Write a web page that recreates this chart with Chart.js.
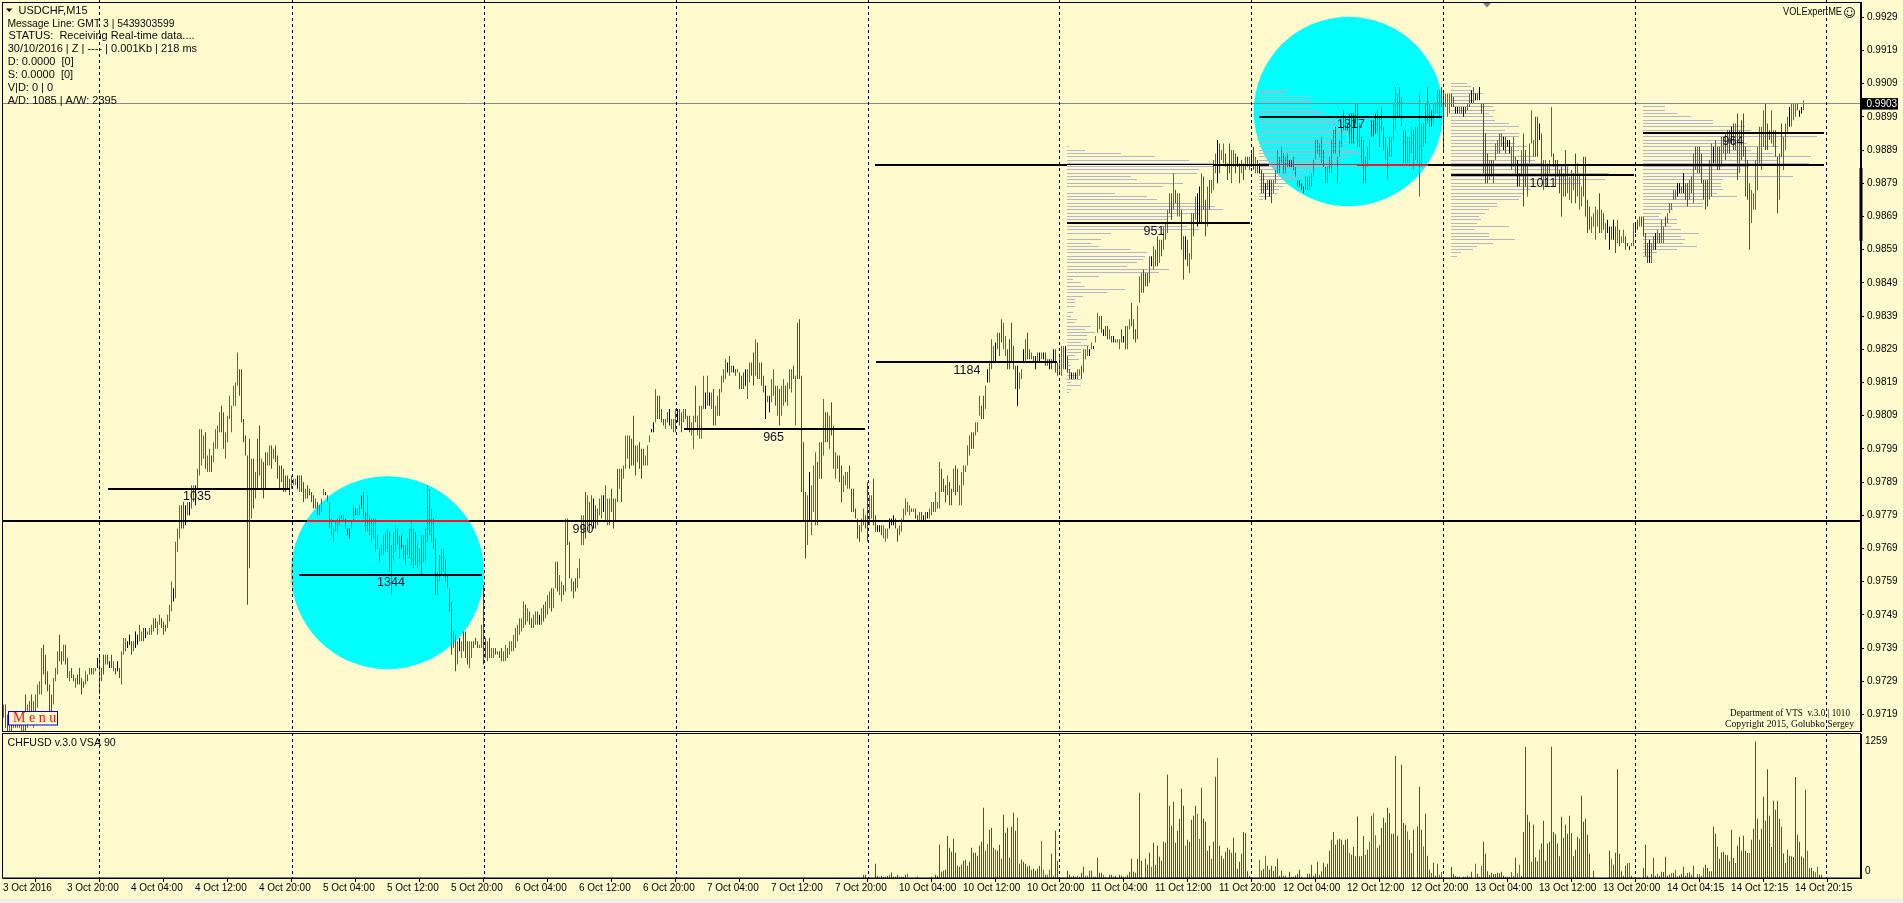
<!DOCTYPE html>
<html><head><meta charset="utf-8">
<script src="https://cdn.jsdelivr.net/npm/chart.js@4/dist/chart.umd.js"></script>
<style>
html,body{margin:0;padding:0;background:#FFFACD;overflow:hidden;width:1903px;height:903px}
canvas{position:absolute;left:0}
#foot{position:absolute;left:0;top:899px;width:1903px;height:4px;background:#f0f0f0}
</style></head><body>
<canvas id="main" width="1903" height="733" style="top:0"></canvas>
<canvas id="sub" width="1903" height="166" style="top:733px"></canvas>
<div id="foot"></div>
<script>
// Price bars: high, low, colour (1 up/green, 2 down/red, 0 flat/black); prices are 0.9xxx, written as xxx
const barsA=[722,718,1,722,715,2,719,714,2,718,714,1,718,714,2,719,715,1,719,715,2,719,715,1,720,715,1,716,714,1,717,714,1,725,714,2,722,715,1,723,717,1,725,719,2,723,715,1,725,719,1,728,721,1,729,725,1,739,725,1,740,731,2,737,728,2,732,726,2,728,718,2,725,720,2,730,722,1,733,729,1,738,731,1,743,735,2,738,734,2,740,735,1,740,734,2,736,730,2,732,729,1,733,730,2,731,729,2,730,727,1,731,728,2,733,728,2,730,725,2,729,727,2,732,728,1,731,729,2,733,731,1,733,731,2,733,731,1,733,732,1,736,733,0,
737,725,1,733,729,2,737,731,2,737,734,1,737,734,2,735,733,0,737,733,2,735,732,1,733,731,2,735,732,0,733,730,2,738,728,1,742,737,1,742,738,1,741,739,0,743,740,0,741,737,2,741,738,1,744,739,0,743,740,0,746,741,1,744,741,1,745,741,2,745,742,0,744,743,1,745,743,1,746,743,1,748,744,1,748,745,2,747,743,1,749,746,1,748,745,2,747,743,2,746,744,2,749,745,1,752,747,1,759,750,1,757,753,0,771,754,1,775,768,1,782,772,1,782,775,2,783,775,2,782,776,0,783,779,1,783,779,0,788,781,1,788,783,1,788,782,0,793,787,1,805,791,1,805,794,1,803,796,1,804,793,2,797,792,1,799,792,1,797,792,2,801,795,1,805,799,1,806,799,1,810,804,1,812,804,2,810,799,2,804,796,1,809,801,1,815,808,1,812,804,1,818,812,1,819,812,1,828,818,1,823,815,2,823,807,2,808,801,2,803,797,2,797,752,2,802,763,2,796,778,1,796,781,2,792,784,1,802,787,2,806,791,2,796,787,1,795,784,2,798,787,2,798,794,1,800,794,1,800,793,2,799,796,1,800,795,2,797,790,2,794,787,2,794,789,2,793,786,2,791,786,2,791,787,2,790,785,2];
const barsB=[791,787,1,790,788,1,790,788,1,791,787,0,791,786,1,791,786,2,789,783,2,787,784,1,788,784,2,787,785,2,786,783,2,785,781,2,784,781,1,783,779,2,782,779,2,784,780,1,787,785,1,786,785,0,785,783,2,783,775,2,778,773,1,775,771,1,777,774,1,778,774,1,779,776,1,779,778,0,779,777,1,778,775,2,775,773,0,775,772,0,777,775,1,782,777,1,781,779,0,781,779,1,782,779,1,785,781,0,786,778,2,780,774,2,785,774,1,779,773,2,778,771,1,778,772,1,778,768,1,773,769,1,769,765,2,770,767,1,773,767,1,774,768,1,775,768,1,774,762,2,770,755,1,774,765,1,776,768,1,775,770,2,773,766,1,773,769,0,770,766,2,770,764,2,772,767,1,775,766,2,777,764,1,775,763,1,774,764,2,771,763,1,769,764,1,773,761,2,773,765,1,775,765,1,788,771,1,787,773,2,781,771,1,778,769,2,772,755,2,762,755,1,767,759,1,769,761,1,769,762,1,766,759,2,761,757,2,757,750,2,753,737,2,744,739,1,743,732,2,741,734,1,742,738,0,741,736,1,744,738,2,744,736,2,741,734,2,741,733,1,741,736,1,741,739,2,742,740,2,741,739,2,740,739,1,746,739,1,
758,734,2,742,736,2,741,735,1,742,736,2,739,736,1,739,736,1,739,737,2,738,737,1,738,736,2,739,735,2,738,735,1,740,735,1,739,736,2,741,737,1,741,738,1,743,738,1,745,739,1,746,741,1,748,743,1,748,744,1,753,745,1,752,746,2,751,747,1,750,746,2,748,745,2,749,745,1,750,746,1,750,746,2,749,746,0,751,746,1,752,747,2,753,748,1,755,749,1,756,751,1,757,750,2,757,751,1,765,757,1,765,756,2,761,755,1,759,753,1,758,755,2,778,756,1,778,770,2,771,760,2,760,756,1,759,754,2,760,756,2,763,757,1,766,760,1,779,770,1,779,770,1,786,772,2,785,776,1,783,774,2,785,776,1,784,775,0,782,775,2,781,776,1,784,779,1,785,778,1,785,780,0,788,777,1,784,776,1,784,776,1,787,780,2,784,775,2,784,777,1,793,783,2,793,787,1,793,783,2,794,790,1,803,793,1,803,796,1,803,793,2,802,794,2,809,794,2,800,791,2,800,795,1,801,793,2,799,790,2,799,794,2,797,794,1,800,794,1,803,801,1,805,804,0,807,804,0,817,807,1,815,808,2,815,808,2,811,807,2,808,806,2,808,805,1,810,807,2,811,806,0,808,805,1,808,804,1];
const barsC=[811,804,1,811,807,0,811,806,2,810,804,2,811,807,1,811,808,2,809,805,2,809,804,2,807,803,1,809,799,1,818,807,2,809,803,1,812,802,1,812,802,1,821,811,1,816,811,0,821,812,1,816,812,0,816,811,1,817,806,2,812,806,1,815,809,1,817,809,2,821,816,1,823,819,1,826,820,1,825,822,0,827,821,2,824,822,1,824,822,0,823,821,2,823,822,1,822,817,2,821,817,2,822,817,2,823,818,0,823,814,1,825,819,1,825,821,2,828,818,2,832,821,1,831,820,2,825,820,1,825,818,2,821,816,2,818,808,0,815,813,1,815,810,0,820,813,1,823,815,1,818,812,2,818,809,1,817,806,2,818,809,1,820,812,1,818,813,2,819,812,1,823,817,1,823,816,1,824,820,2,821,806,1,837,820,2,838,820,2,821,786,2,801,777,2,786,766,2,785,770,1,792,777,0,788,773,1,794,780,1,798,776,1,795,776,2,801,790,1,801,790,2,814,797,1,810,801,2,810,801,2,809,799,1,813,803,2,806,793,2,798,790,1,797,793,2,797,789,2,794,783,2,791,786,1,792,788,1,792,787,1,794,787,2,787,780,2,787,780,2,781,778,2,778,772,2,776,771,2,778,774,1,781,776,1,779,775,2,
789,771,2,785,776,1,785,778,1,790,776,2,779,774,2,776,774,0,776,774,0,776,773,2,776,772,1,775,771,1,775,772,1,778,775,0,778,776,0,779,776,0,778,775,2,775,771,2,776,773,1,778,774,1,781,777,1,784,779,1,783,780,1,782,779,1,781,780,2,781,780,1,781,778,2,779,777,2,780,777,1,780,777,2,779,777,0,780,777,2,780,778,0,781,778,1,783,779,1,783,780,2,786,780,1,783,781,1,795,781,1,793,786,2,790,786,2,788,783,2,791,785,1,789,782,2,787,782,2,793,786,1,794,785,2,793,786,2,788,782,1,792,782,1,794,788,1,794,792,1,800,794,1,803,797,1,804,799,2,804,799,2,807,803,1,807,804,1,815,809,1,812,808,2,815,808,2,818,811,1,823,819,0,825,819,1,832,823,1,830,825,1,831,825,0,834,829,1,834,827,2,838,831,2,837,829,1,833,827,1,829,823,2,832,823,2,837,825,2,830,823,2,824,817,2,824,812,0,822,817,1,823,820,1,829,825,0,832,825,1,834,826,2,829,826,2,828,826,1,827,825,2,827,823,0,828,825,1,828,825,0,828,826,1,828,826,0,828,824,2,826,824,1,826,823,0,826,823,2,829,825,0,829,822,2,825,821,2,827,822,1];
const barsD=[830,821,1,830,823,1,830,823,0,827,822,2,823,820,1,822,820,0,822,820,1,822,820,0,823,820,1,823,821,1,824,820,2,829,822,1,829,826,1,830,827,1,829,827,0,831,829,1,830,829,0,833,831,1,840,834,1,839,835,1,839,834,2,835,833,0,836,833,2,836,832,2,835,832,1,833,831,2,833,831,0,832,831,2,832,831,1,832,829,1,835,831,2,833,831,0,836,829,2,836,829,1,838,835,1,843,836,2,838,832,2,835,831,2,842,832,1,851,843,1,852,846,1,853,846,2,852,848,2,852,848,2,857,849,1,857,854,0,860,853,1,859,854,2,863,854,2,862,855,1,862,857,2,866,859,1,867,862,1,871,864,1,876,870,1,876,868,2,882,871,1,877,873,2,876,869,1,876,869,1,871,859,2,863,850,2,863,856,0,862,854,2,858,852,1,870,856,1,870,863,2,875,868,1,876,866,0,878,867,0,882,867,1,881,871,2,874,863,2,878,866,1,880,871,2,880,876,1,886,877,1,888,882,1,892,879,0,891,882,2,889,886,1,891,885,1,888,884,2,885,880,2,891,882,2,889,879,1,889,884,1,888,882,2,887,884,0,885,879,2,886,882,1,885,880,2,887,883,1,887,884,2,887,883,1,888,884,0,890,883,2,887,882,1,886,882,2,885,882,0,883,876,2,882,876,2,879,874,0,880,877,1,880,875,0,880,873,2,880,876,1,883,879,1,889,882,1,887,882,2,890,885,1,888,882,2,887,882,1,888,884,2,886,884,0,886,884,0,887,883,2,884,881,2,880,878,2,880,878,0,879,877,0,878,876,0,881,877,1,881,877,1,881,877,1,882,878,1,886,881,1,892,886,1,892,888,1,891,887,1,893,885,1,889,884,2,884,879,2,884,879,1,887,882,1,892,882,1,895,888,1,896,888,2,887,879,2,892,887,1,896,890,1,901,895,2,899,895,2,897,895,0,900,891,2,900,891,2,900,891,0,903,897,2,903,890,2,897,890,1,893,885,2,892,879,2,887,879,2,890,884,1,892,886,1,898,893,0,898,893,0,900,894,0,901,894,1,899,890,2,902,895,2,896,889,2,893,886,1,890,880,2,893,887,2,893,887,1,903,892,1,908,895,1,906,899,1,908,899,2,905,896,1,895,885,2,895,885,2,893,885,1,893,885,1,896,888,1,895,883,2,896,886,1,896,885,1,906,875,1,897,884,1,897,890,1,903,891,2,908,897,2,903,896,1,901,896,0,903,897,1,903,900,1,907,900,1,907,899,1,908,902,2];
const barsE=[907,889,2,906,902,1,906,899,1,906,900,1,906,902,2,905,902,2,902,900,0,902,900,0,902,900,1,902,900,2,902,899,0,902,900,2,903,901,1,906,902,1,907,903,0,908,903,1,906,904,0,906,904,2,908,904,0,903,900,2,903,882,2,894,879,2,888,879,2,886,880,1,886,881,2,886,879,1,891,886,1,892,888,1,894,888,1,894,890,1,893,889,0,893,888,2,892,890,0,892,888,0,890,883,1,893,884,1,887,882,1,886,878,0,882,878,2,889,881,1,894,872,2,889,878,2,885,875,1,891,885,1,901,891,1,892,887,1,899,887,2,899,887,2,897,892,0,894,880,2,886,877,1,886,878,1,885,878,2,886,882,1,902,887,1,888,884,2,886,878,2,886,881,2,883,876,2,884,869,2,882,875,1,889,875,2,884,876,1,881,874,1,883,873,1,882,877,1,888,873,2,885,875,1,882,871,1,878,872,1,887,875,2,887,869,2,874,864,2,872,865,2,869,864,1,870,866,1,872,862,1,871,866,1,876,864,2,871,864,1,870,865,2,867,862,1,868,864,0,866,859,0,866,862,2,868,862,0,866,858,2,868,861,1,865,860,2,
863,861,1,865,861,1,863,859,2,861,860,2,860,859,0,861,860,1,867,860,1,867,864,0,868,865,2,869,866,1,869,866,2,869,863,2,864,857,2,861,855,2,862,855,0,861,855,1,863,859,1,864,859,0,865,861,1,864,861,2,868,861,1,866,861,1,869,866,2,870,867,1,873,870,1,873,871,1,877,874,1,877,874,1,879,875,0,879,876,0,878,876,1,882,876,0,879,874,2,879,872,2,880,874,1,881,876,2,888,873,1,890,883,2,890,882,1,890,882,2,888,879,2,880,874,2,880,871,2,880,872,2,886,874,1,891,875,1,890,885,0,892,885,1,890,883,2,890,883,2,893,884,1,893,888,1,894,886,2,895,888,1,895,888,2,896,891,0,897,889,2,897,889,1,900,880,2,895,882,1,898,886,2,900,887,2,890,875,2,886,874,2,879,859,2,877,867,1,876,871,1,886,871,1,890,877,1,896,885,1,896,883,1,901,890,1,903,889,2,897,889,2,895,892,2,901,891,1,895,890,1,895,887,2,887,870,2,888,874,1,897,887,2,893,883,1,897,889,1,899,894,1,902,896,0,903,896,1,903,898,1,903,899,1,903,901,2,901,899,0,902,900,0,904,901,1];

// Volume histogram from bar 430 on: value, colour (1 green, 2 red, 3 magenta)
const volA=[30,1,30,2,0,0,0,0,0,0,0,0,130,2,20,2,12,3,20,1,12,2,12,1,20,1,30,3,50,2,12,3,12,2,30,2,12,1,12,1,12,1,30,1,40,3,0,0,0,0,0,0,0,0,12,2,0,0,0,0,0,0,0,0,0,0,0,0,12,1,0,0,30,2,20,1,306,1,58,2,67,2,76,2,389,1,278,2,242,2,361,1,233,2,113,2,104,2,122,1,159,1,168,1,113,1,150,2,278,1,233,2,233,1,205,1,297,1,334,1,646,2,251,1,315,3,444,1,462,1,278,1,260,3,251,1,306,2,177,1,581,2,416,2,462,2,187,1,471,2,600,1,435,2,554,3,132,1,168,1,150,1,132,1,104,2,113,2,76,1,86,2,67,2,86,1,113,1,343,3,76,3,30,2,30,3,76,3,223,1,21,3,435,2,159,2,0,0,0,0,0,0,0,0];
const volB=[67,2,30,2,12,2,21,2,12,2,21,3,12,2,49,2,104,1,21,3,21,3,67,3,67,1,12,1,12,1,187,1,49,2,49,1,30,3,12,2,0,0,30,2,30,2,12,2,21,2,0,0,30,1,21,2,12,2,12,2,30,1,58,1,177,2,58,2,49,1,177,1,783,1,159,1,0,0,177,1,122,2,233,1,104,3,324,1,122,2,297,2,196,1,159,2,334,1,324,1,949,1,664,1,480,2,701,1,324,2,435,2,545,1,820,2,664,2,297,3,352,2,334,1,535,1,572,2,664,1,591,3,361,3,829,1,545,2,517,2,251,1,297,2,177,1,334,1,930,1,1105,3,297,1,205,2,177,2,242,1,278,2,260,2,233,1,370,1,233,2,86,1,150,2,223,1,422,2,413,1,61,2,21,2,0,0,0,0,0,0,0,0];
const volC=[168,3,67,2,83,2,205,3,113,1,76,2,113,2,67,1,107,1,177,1,21,2,67,1,21,2,21,2,0,0,58,2,12,2,12,2,24,2,40,2,76,2,12,2,0,0,0,0,40,1,40,1,122,1,21,2,40,1,150,1,30,1,61,1,141,2,104,2,132,2,251,1,352,1,422,1,306,2,352,1,361,2,352,1,306,1,352,2,361,1,230,3,214,2,288,2,199,1,566,2,199,2,199,2,383,2,214,1,260,1,334,3,572,1,597,3,392,3,278,1,300,1,459,2,554,2,511,2,646,2,597,2,407,1,407,1,1123,1,389,2,0,0,1040,2,505,2,490,2,428,3,352,2,230,2,444,1,0,0,474,1,838,2,444,1,291,3,591,1,205,2,76,1,46,1,141,1,21,2,132,1,30,3,55,3];
const volD=[0,0,0,0,0,0,0,0,101,2,37,2,18,2,12,1,12,1,0,0,12,2,12,1,24,3,12,2,58,1,0,0,132,3,40,1,12,2,113,3,334,2,223,2,61,1,30,2,49,1,37,1,37,1,49,2,43,1,58,1,21,2,12,2,12,2,12,2,55,3,18,2,187,1,43,3,122,3,21,1,422,1,1206,2,581,1,517,2,150,1,490,1,190,2,153,1,260,3,318,1,526,2,159,2,318,2,334,2,1206,1,422,2,401,2,318,2,199,2,563,2,370,1,490,1,407,2,572,2,413,1,199,2,260,1,379,2,361,1,756,2,517,2,545,1,398,2,223,2,0,0,67,1,0,0,0,0,0,0,0,0,0,0,0,0,0,0,251,2,177,3,122,1,233,2,1000,2,223,1,61,1,21,2,113,2,135,2,141,3,21,2,0,0,0,0,0,0,0,0,0,0];
const volE=[95,1,306,2,21,1,0,0,37,1,187,1,21,2,40,3,21,1,58,2,55,2,196,2,21,2,30,1,46,3,49,2,76,3,15,2,24,2,40,1,104,1,21,2,46,1,52,1,30,1,113,1,0,0,37,3,37,3,21,1,95,3,122,2,92,2,61,1,61,1,471,1,407,2,288,1,177,1,236,1,242,1,214,2,208,2,153,2,444,1,184,2,138,1,297,2,379,2,251,1,389,1,251,1,230,2,230,3,352,1,453,2,1255,2,545,1,352,1,453,2,747,2,526,2,1000,2,572,1,285,1,710,1,627,1,710,1,545,1,471,1,226,2,138,1,260,1,205,1,199,2,193,2,927,2,398,1,334,2,199,2,187,1,811,1,251,3,89,1,95,1,61,1,52,3,104,3,30,1,30,1];

// Volume-profile rows: width in bars, from a top price level downward
const profile1=[1,9,27,44,61,73,73,66,65,32,35,58,48,0,24,40,45,66,74,78,66,53,50,47,60,66,22,0,17,12,16,32,40,39,38,35,30,51,46,16,3,7,9,29,20,8,4,4,4,0,3,2,5,4,12,9,14,10,10,7,11,7,7,4,6,1,2,2,2,5,7,2,7,2,1];
const profile2=[14,12,25,26,23,26,30,32,35,40,38,42,45,45,40,38,45,42,48,50,45,42,38,35,28,24,22,18,15,12,10,9,6,2];
const profile3=[8,10,11,16,9,12,17,21,22,19,21,22,29,34,27,34,34,25,32,38,34,30,42,42,46,59,59,79,57,77,65,46,40,36,35,34,23,23,19,17,14,15,13,29,12,19,19,32,21,13,11,5,3];
const profile4=[6,11,11,17,24,35,35,51,54,55,87,50,52,68,54,65,84,67,83,53,49,47,75,40,39,39,40,37,47,30,30,30,15,9,8,17,17,14,19,28,19,21,20,27,17,7,4];
const profileTops=[890,907,909,903];
const profileStarts=[532,628,724,820];

// Horizontal levels: price, from bar, to bar
const thickBlack=[[777.2,0,929],[786.9,52.5,143.5],[761,148,239.5],[805,340.5,431],[825.2,436.5,527],[867,532,623.5],[899,628,719.5],[881.6,724,815.5],[894.1,820,910.5],[884.6,436,532],[884.6,605,633],[884.6,712.5,910.5]];
const thickRed=[[777.2,152,233],[884.6,677,712.5]];
const thinBlack=[[884.6,532,605]];
const thinRed=[[884.6,633,677]];
const levelLabels=[['1035',97,784.5],['1344',194,758.6],['990',290,774.8],['965',385.3,802.5],['1184',482,822.7],['951',575.5,864.6],['1317',674,896.6],['1011',770,879],['964',865,891.7]];
const circles=[[192.25,761.7,96.5],[672.75,900.6,94.7]];
const lastPrice=0.9903;
const dayBreaks=[48,144.25,240.5,336.5,432.5,528,624.2,720.2,816.2,911.3];
const priceTicks=[9929,9919,9909,9899,9889,9879,9869,9859,9849,9839,9829,9819,9809,9799,9789,9779,9769,9759,9749,9739,9729,9719];
const timeTickBars=[0,32,64,96,128,160,192,224,256,288,320,352,384,416,448,480,512,544,576,608,640,672,704,736,768,800,832,864,896];
const timeLabels=['3 Oct 2016','3 Oct 20:00','4 Oct 04:00','4 Oct 12:00','4 Oct 20:00','5 Oct 04:00','5 Oct 12:00','5 Oct 20:00','6 Oct 04:00','6 Oct 12:00','6 Oct 20:00','7 Oct 04:00','7 Oct 12:00','7 Oct 20:00','10 Oct 04:00','10 Oct 12:00','10 Oct 20:00','11 Oct 04:00','11 Oct 12:00','11 Oct 20:00','12 Oct 04:00','12 Oct 12:00','12 Oct 20:00','13 Oct 04:00','13 Oct 12:00','13 Oct 20:00','14 Oct 04:15','14 Oct 12:15','14 Oct 20:15'];
const headerLines=[['USDCHF,M15',18.5,10.7,11],['Message Line: GMT 3 | 5439303599',7.5,24,10.3],['STATUS:  Receiving Real-time data....',8.5,36.3,11],['30/10/2016 | Z | ---- | 0.001Kb | 218 ms',7.7,49.3,11],['D: 0.0000  [0]',7.7,62.3,11],['S: 0.0000  [0]',7.7,75.3,11],['V|D: 0 | 0',7.7,88.3,11],['A/D: 1085 | A/W: 2395',7.7,101.3,11]];

const BG='#FFFACD', UI='"Liberation Sans",Arial,sans-serif';
const price=p=>(9000+p)/10000;
const barColour=['#000000','#2B8A22','#FF0000'];
const volColour=['#000000','#0F7F0F','#FF0000','#FF00FF'];
const bars=[...barsA,...barsB,...barsC,...barsD,...barsE];
const vols=[...volA,...volB,...volC,...volD,...volE];
const barData=[],barCols=[];
for(let k=0,i=0;k<bars.length;k+=3,i++){barData.push({x:i+0.25,y:[price(bars[k+1]),price(bars[k])]});barCols.push(barColour[bars[k+2]]);}
const volData=[],volCols=[];
for(let k=0,i=430;k<vols.length;k+=2,i++){volData.push({x:i+0.25,y:vols[k]});volCols.push(volColour[vols[k+1]]);}
const segs=list=>{const d=[];list.forEach(([p,a,b])=>{d.push({x:a,y:price(p)},{x:b,y:price(p)},{x:b,y:null});});return d;};
const profileRows=[];
[profile1,profile2,profile3,profile4].forEach((w,n)=>w.forEach((bw,r)=>{if(bw>0)profileRows.push([profileTops[n]-r,profileStarts[n],profileStarts[n]+bw]);}));
const line=(data,color,w,order)=>({type:'line',data,borderColor:color,borderWidth:w,pointRadius:0,tension:0,spanGaps:false,order,snapWidth:w,borderCapStyle:'butt'});

const snapPlugin={id:'snap',afterDatasetsUpdate(c){c.data.datasets.forEach((d,i)=>{const meta=c.getDatasetMeta(i);
 if(d.snapBars){meta.data.forEach(pt=>{pt.x=Math.floor(pt.x)+0.5;});return;}
 if(!d.snapWidth)return;const w=d.snapWidth;meta.data.forEach(pt=>{if(pt.skip||!isFinite(pt.y))return;pt.y=w%2?Math.floor(pt.y)+0.5:Math.round(pt.y);});});}};
const dashPlugin={id:'dash',afterDatasetsDraw(c){const g=c.ctx,x=c.scales.x;g.save();g.strokeStyle='#000';g.lineWidth=1;g.setLineDash([3,3]);dayBreaks.forEach(b=>{const px=Math.round(x.getPixelForValue(b))+0.5;g.beginPath();g.moveTo(px,0);g.lineTo(px,c.chartArea.bottom);g.stroke();});g.restore();}};
const axisFont={family:UI,size:10};
const annotate={id:'annotate',afterDatasetsDraw(c){
 const g=c.ctx,x=c.scales.x,y=c.scales.y;g.save();
 g.textBaseline='middle';g.textAlign='center';g.fillStyle='#101028';g.font='12.5px '+UI;
 levelLabels.forEach(([t,b,p])=>g.fillText(t,x.getPixelForValue(b),y.getPixelForValue(price(p))));
 g.textAlign='left';g.fillStyle='#0a0a0a';
 headerLines.forEach(([t,px,py,s])=>{g.font=s+'px '+UI;g.fillText(t,px,py);});
 g.beginPath();g.moveTo(6,8.5);g.lineTo(12.5,8.5);g.lineTo(9.2,12);g.closePath();g.fill();
 g.font='10.8px '+UI;g.fillText('VOLExpertME',1783,12.5,59);
 g.strokeStyle='#111';g.lineWidth=1;g.beginPath();g.arc(1849.5,12.5,5,0,Math.PI*2);g.stroke();
 g.fillRect(1847,10.5,1.2,1.6);g.fillRect(1851,10.5,1.2,1.6);g.beginPath();g.arc(1849.5,13,2.8,0.2,Math.PI-0.2);g.stroke();
 g.font='11px "Liberation Serif",serif';g.fillText('Department of VTS  v.3.0 | 1010',1730,712.7,120);g.fillText('Copyright 2015, Golubko Sergey',1725,723.7,129);
 g.fillStyle=BG;g.fillRect(8.5,711.5,49,13.5);g.strokeStyle='#0000E0';g.lineWidth=1;g.strokeRect(8.5,711.5,49,13.5);
 g.fillStyle='#FF1010';g.font='14px "Liberation Serif",serif';g.fillText('M e n u',13,718.7);
 g.strokeStyle='#000';g.lineWidth=1;g.strokeRect(2.5,2.5,1858,729);
 g.fillStyle='#000';g.fillRect(1859.5,168,3,73);
 g.fillStyle='#76808E';g.beginPath();g.moveTo(1483,3);g.lineTo(1491,3);g.lineTo(1487,7.5);g.closePath();g.fill();
 const py=y.getPixelForValue(lastPrice);
 g.fillStyle='#000';g.fillRect(1862,py-5.5,36,11.5);g.fillStyle='#fff';g.font=axisFont.size+'px '+UI;g.fillText(lastPrice.toFixed(4),1866.5,py+0.5);
 g.restore();}};

new Chart(document.getElementById('main'),{
 type:'bar',
 data:{datasets:[
  {type:'bubble',data:circles.map(([b,p,r])=>({x:b,y:price(p),r})),backgroundColor:'#00FFFF',borderWidth:0,order:6},
  line(segs(profileRows),'#B4B6C8',1,5),
  {type:'bar',data:barData,backgroundColor:barCols,barThickness:1,borderWidth:0,inflateAmount:0,grouped:false,order:3,snapBars:true},
  line(segs(thickBlack),'#000000',2,2),
  line(segs(thinBlack),'#000000',1,2),
  line(segs(thickRed),'#FF1030',2,1),
  line(segs(thinRed),'#FF1030',1,1),
  line([{x:0,y:lastPrice},{x:929,y:lastPrice}],'#828A94',1,0)
 ]},
 options:{responsive:false,animation:false,events:[],devicePixelRatio:1,
  layout:{autoPadding:false,padding:{left:3,top:2,bottom:2,right:0}},
  plugins:{legend:{display:false},tooltip:{enabled:false}},
  scales:{
   x:{type:'linear',min:0,max:929,display:false,offset:false},
   y:{type:'linear',position:'right',min:price(714),max:price(933.6),
      afterFit(s){s.width=42;s.paddingTop=0;s.paddingBottom=0;},
      afterBuildTicks(s){s.ticks=priceTicks.map(v=>({value:v/10000}));},
      grid:{drawOnChartArea:false,tickLength:3,tickColor:'#000'},border:{color:'#000'},
      ticks:{autoSkip:false,padding:3,color:'#000',font:axisFont,callback:v=>v.toFixed(4)}}
  }},
 plugins:[snapPlugin,dashPlugin,annotate]
});

new Chart(document.getElementById('sub'),{
 type:'bar',
 data:{datasets:[{data:volData,backgroundColor:volCols,barThickness:1,borderWidth:0,inflateAmount:0,grouped:false,snapBars:true}]},
 options:{responsive:false,animation:false,events:[],devicePixelRatio:1,
  layout:{autoPadding:false,padding:{left:3,top:1,bottom:0,right:0}},
  plugins:{legend:{display:false},tooltip:{enabled:false}},
  scales:{
   x:{type:'linear',min:0,max:929,position:'bottom',offset:false,
      afterFit(s){s.height=21;s.paddingLeft=0;s.paddingRight=0;},
      afterBuildTicks(s){s.ticks=timeTickBars.map(v=>({value:v}));},
      grid:{drawOnChartArea:false,tickLength:4,tickColor:'#000'},border:{color:'#000'},
      ticks:{autoSkip:false,maxRotation:0,align:'start',padding:0,color:'#000',font:axisFont,callback:(v,i)=>timeLabels[i]}},
   y:{type:'linear',position:'right',min:0,max:1323,
      afterFit(s){s.width=42;s.paddingTop=0;s.paddingBottom=0;},
      afterBuildTicks(s){s.ticks=[{value:66},{value:1259}];},
      grid:{drawOnChartArea:false,tickLength:3,tickColor:'rgba(0,0,0,0)'},border:{color:'#000'},
      ticks:{autoSkip:false,padding:1,color:'#000',font:axisFont,callback:v=>v<100?'0':'1259'}}
  }},
 plugins:[snapPlugin,dashPlugin,{id:'subText',afterDraw(c){const g=c.ctx;g.save();g.strokeStyle='#000';g.lineWidth=1;g.strokeRect(2.5,0.5,1858,144.5);g.fillStyle='#0a0a0a';g.font='10.6px '+UI;g.textBaseline='middle';g.fillText('CHFUSD v.3.0 VSA 90',7.6,9.7);g.restore();}}]
});
</script>
</body></html>
